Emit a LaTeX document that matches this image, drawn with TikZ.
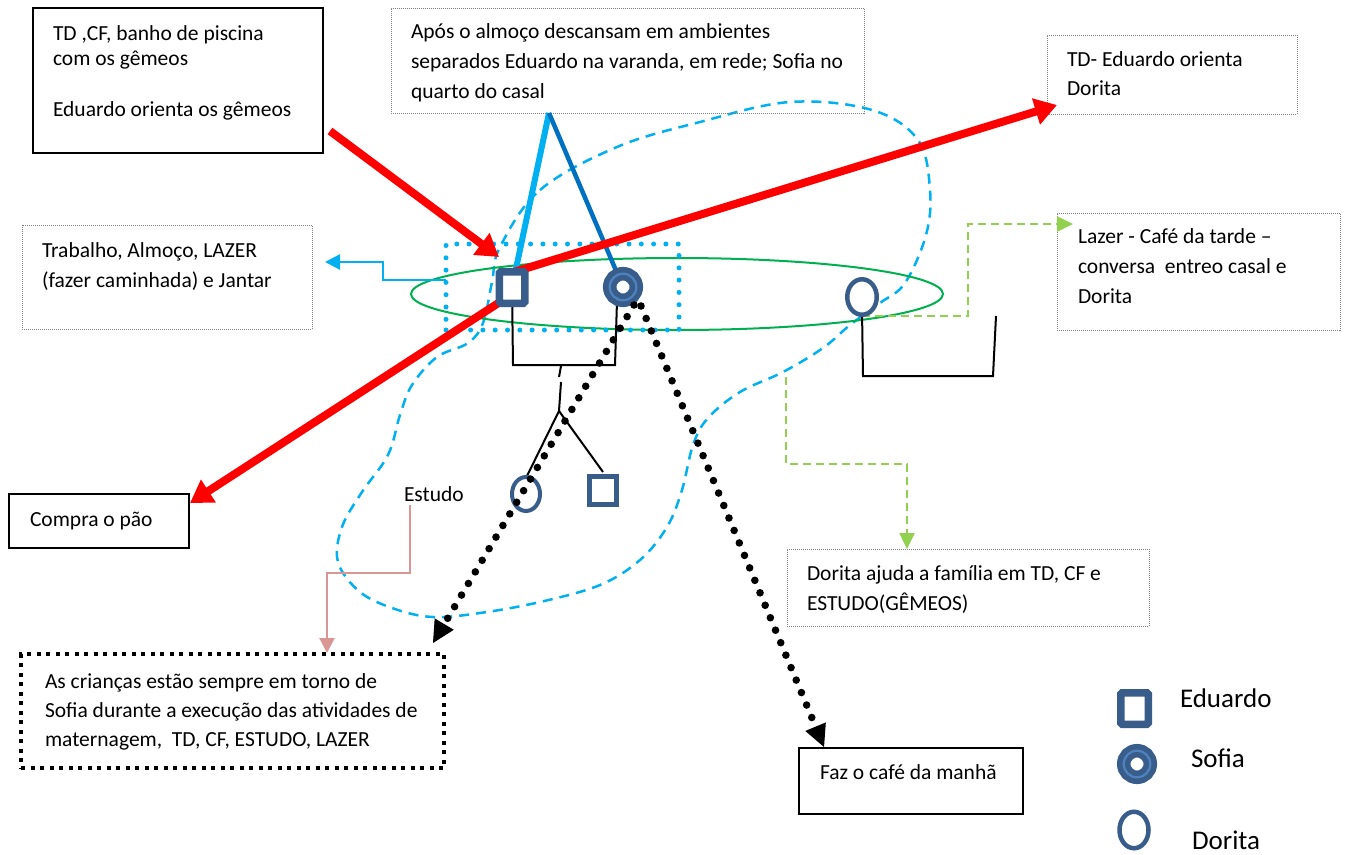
\documentclass[tikz,border=0pt]{standalone}
\usepackage{fontspec}
\setmainfont{Carlito}
\usetikzlibrary{arrows.meta,shapes.geometric,calc}
\definecolor{sym}{RGB}{56,93,138}
\definecolor{ringc}{RGB}{79,129,189}
\definecolor{lblue}{RGB}{0,176,240}
\definecolor{dblue}{RGB}{0,112,192}
\definecolor{gell}{RGB}{0,176,80}
\definecolor{lgreen}{RGB}{146,208,80}
\definecolor{pinkc}{RGB}{217,150,148}
\definecolor{boxgray}{RGB}{127,127,127}
\newcommand\fst{\rule{0pt}{18pt}}
\begin{document}
\begin{tikzpicture}[x=1pt,y=-1pt,
  solidbox/.style={draw=black,line width=2pt,anchor=north west,inner sep=0pt,outer sep=0pt},
  graybox/.style={draw=boxgray,line width=0.9pt,dash pattern=on 1pt off 1pt,anchor=north west,inner sep=0pt,outer sep=0pt},
  sqdotbox/.style={draw=black,line width=4pt,dash pattern=on 4pt off 5.5pt,anchor=north west,inner sep=0pt,outer sep=0pt},
  txt/.style={anchor=north west,inner sep=0pt,outer sep=0pt,align=left,font=\fontsize{21.5}{30}\selectfont},
  stxt/.style={anchor=base west,inner sep=0pt,outer sep=0pt,font=\fontsize{21.5}{30}\selectfont},
  legtxt/.style={anchor=base west,inner sep=0pt,outer sep=0pt,font=\fontsize{27}{32}\selectfont},
  edusym/.style={rectangle,draw=sym,fill=white,line width=7.5pt,minimum width=25.5pt,minimum height=31.5pt,inner sep=0pt,outer sep=0pt,rounded corners=1.5pt},
  sofsym/.style={circle,draw=sym,fill=white,line width=13.5pt,minimum size=26.6pt,inner sep=0pt,outer sep=0pt},
  dorsym/.style={ellipse,draw=sym,fill=white,line width=4.5pt,minimum width=29.5pt,minimum height=35.5pt,inner sep=0pt,outer sep=0pt},
  sonsym/.style={rectangle,draw=sym,fill=white,line width=5pt,minimum width=27pt,minimum height=28pt,inner sep=0pt,outer sep=0pt},
  lring/.style={draw=ringc,line width=2.3pt},
  fam/.style={draw=black,line width=2pt},
  redarrow/.style={draw=red,line width=8pt,-{Triangle[length=22pt,width=26pt]}},
  garrow/.style={draw=lgreen,line width=2.5pt,dash pattern=on 8pt off 5pt,-{Triangle[length=16pt,width=15pt]}},
  dotarrow/.style={draw=black,line width=7.6pt,line cap=round,dash pattern=on 0pt off 13.5pt,-{Triangle[length=22pt,width=22pt,line width=1pt]}},
  blobst/.style={draw=lblue,line width=2.5pt,dash pattern=on 10pt off 7pt},
]
\useasboundingbox[fill=white] (0,0) rectangle (1357,854);

% dashed blob
\draw[blobst] plot[smooth cycle, tension=0.6] coordinates {(500,247) (540,190) (617,147) (700,122) (790,102) (872,110) (918,140) (930,190) (926,235) (905,283) (880,303) (850,325) (823,348) (783,372) (740,392) (708,418) (693,445) (682,490) (667,527) (640,560) (600,585) (540,602) (480,613) (433,617) (395,609) (360,592) (338,562) (342,527) (362,492) (388,455) (400,415) (412,385) (437,357) (468,343) (483,323) (492,282)};

% boxes
\node[solidbox,minimum width=290pt,minimum height=145pt] (b1) at (33,8) {};
\node[graybox,minimum width=473pt,minimum height=105pt] (b2) at (391,8) {};
\node[graybox,minimum width=250pt,minimum height=79pt] (b3) at (1047,35) {};
\node[graybox,minimum width=290pt,minimum height=104pt] (b4) at (22,225) {};
\node[graybox,minimum width=283pt,minimum height=117pt] (b5) at (1057,213) {};
\node[solidbox,minimum width=180pt,minimum height=54pt] (b6) at (9,494) {};
\node[graybox,minimum width=362pt,minimum height=77pt] (b7) at (787,549) {};
\node[sqdotbox,minimum width=423pt,minimum height=114pt] (b8) at (21,654) {};
\node[solidbox,minimum width=224pt,minimum height=66pt] (b9) at (799,748) {};

% texts
\node[txt,font=\fontsize{21.5}{25.5}\selectfont] (t1) at (53,22) {\fst TD ,CF, banho de piscina\\com os gêmeos\\[25pt]Eduardo orienta os gêmeos};
\node[txt] (t2) at (411,20) {\fst Após o almoço descansam em ambientes\\separados Eduardo na varanda, em rede; Sofia no\\quarto do casal};
\node[txt,font=\fontsize{21.5}{29.5}\selectfont] (t3) at (1067,48) {\fst TD- Eduardo orienta\\Dorita};
\node[txt] (t4) at (42,239) {\fst Trabalho, Almoço, LAZER\\(fazer caminhada) e Jantar};
\node[txt] (t5) at (1078,225) {\fst Lazer - Café da tarde –\\conversa\ \ entreo casal e\\Dorita};
\node[stxt] (t6) at (30,526) {Compra o pão};
\node[txt] (t7) at (807,562) {\fst Dorita ajuda a família em TD, CF e\\ESTUDO(GÊMEOS)};
\node[txt,font=\fontsize{21.5}{29}\selectfont] (t8) at (45,670) {\fst As crianças estão sempre em torno de\\Sofia durante a execução das atividades de\\maternagem,\ \ TD, CF, ESTUDO, LAZER};
\node[stxt] (t9) at (820,779) {Faz o café da manhã};
\node[stxt] (est) at (404,501) {Estudo};

% green ellipse and blue dotted rectangle
\node[ellipse,draw=gell,line width=2pt,minimum width=532pt,minimum height=72pt,inner sep=0pt,outer sep=0pt] (gel) at (677,294) {};
\node[rectangle,draw=lblue,line width=5pt,line cap=round,dash pattern=on 0pt off 12.3pt,minimum width=233pt,minimum height=86pt,inner sep=0pt,outer sep=0pt] (drect) at (562.5,287) {};

% coordinates
\coordinate (apex) at (549,113);
\coordinate (fl) at (513,365);
\coordinate (fr) at (615,365);
\coordinate (d1) at (561,366);
\coordinate (d2) at (559,377);
\coordinate (d3) at (561,382);
\coordinate (bp) at (559,411);
\coordinate (r1s) at (330,131);
\coordinate (r1e) at (499,257);
\coordinate (r2s) at (514,272);
\coordinate (r2e) at (1057,105);
\coordinate (r3s) at (500,302);
\coordinate (r3e) at (190,503);
\coordinate (bl1) at (383,280);
\coordinate (bl2) at (383,262);
\coordinate (ble) at (325,262);
\coordinate (ga1) at (968,316);
\coordinate (gae) at (1073,224);
\coordinate (gb0) at (786,377);
\coordinate (gb1) at (786,464);
\coordinate (gbe) at (907,549);
\coordinate (pk0) at (410,505);
\coordinate (pk1) at (410,573);
\coordinate (pke) at (327,653);
\coordinate (dr1) at (863,376);
\coordinate (dr2) at (993,376);
\coordinate (dr3) at (996,316);
\coordinate (ds1) at (634,305);
\coordinate (dse1) at (433,643);
\coordinate (ds2) at (641,306);
\coordinate (dse2) at (824,747);

\coordinate (eduC) at (512,287.5);
\coordinate (sofC) at (623,287);

% family lines
\draw[fam] (eduC) -- (fl) -- (fr) -- ($(sofC)+(-6,14)$);
\draw[fam] (d1) -- (d2);
\draw[fam] (d3) -- (bp);
\draw[fam] (bp) -- (526,478);
\draw[fam] (bp) -- (603,472);
\draw[fam] (862,310) -- (dr1) -- (dr2) -- (dr3);

% blue lines from the note
\draw[draw=lblue,line width=6pt] (apex) -- (eduC);
\draw[draw=dblue,line width=4.5pt] (apex) -- (sofC);

% red arrows
\draw[redarrow] (r1s) -- (r1e);
\draw[redarrow] (r2s) -- (r2e);
\draw[redarrow] (r3s) -- (r3e);

% blue arrow to Trabalho box
\draw[draw=lblue,line width=2.5pt,-{Triangle[length=15pt,width=15pt]}] ($(drect.west)+(0,-7)$) -- (bl1) -- (bl2) -- (ble);

% green dashed arrows
\draw[garrow] (862,316) -- (ga1) |- (gae);
\draw[garrow] (gb0) -- (gb1) -| (gbe);

% pink arrow
\draw[draw=pinkc,line width=2.2pt,-{Triangle[length=15pt,width=15pt]}] (pk0) -- (pk1) -| (pke);

% symbols
\node[edusym] (edu) at (eduC) {};
\node[sofsym] (sof) at (sofC) {};
\draw[lring] (sof.center) circle[radius=13.3pt];
\node[dorsym] (dor) at (862,297) {};
\node[dorsym,line width=4pt,minimum width=28pt,minimum height=34pt] (dau) at (526,494) {};
\node[sonsym] (son) at (603,490.5) {};

% black dotted arrows
\draw[dotarrow] (ds1) -- (dse1);
\draw[dotarrow] (ds2) -- (dse2);

% legend
\node[edusym,minimum width=27.5pt] (legedu) at (1134.5,708.5) {};
\node[sofsym] (legsof) at (1137,764) {};
\draw[lring] (legsof.center) circle[radius=13.3pt];
\node[dorsym,minimum width=29pt,minimum height=36.5pt] (legdor) at (1134,830) {};
\node[legtxt] (le) at (1180,707) {Eduardo};
\node[legtxt] (ls) at (1191,767) {Sofia};
\node[legtxt] (ld) at (1192,849) {Dorita};
\end{tikzpicture}
\end{document}
